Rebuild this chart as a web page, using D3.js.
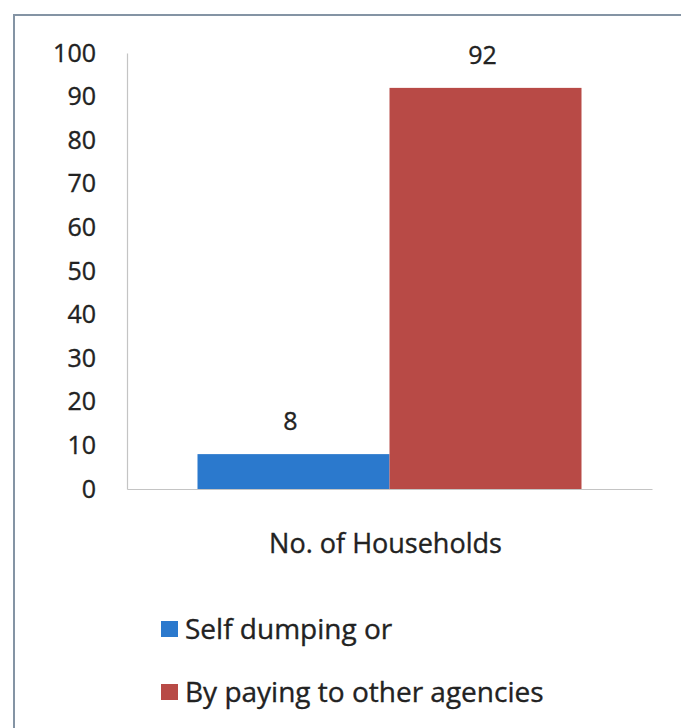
<!DOCTYPE html>
<html>
<head>
<meta charset="utf-8">
<script src="https://cdn.jsdelivr.net/npm/d3@7"></script>
<style>
  html, body { margin: 0; padding: 0; background: #fff; }
  svg { display: block; }
  text { font-family: "Open Sans", Lato, sans-serif; fill: #222; stroke: #222; stroke-width: 0.35px; }
</style>
</head>
<body>
<div id="chart"></div>
<script>
// Household waste disposal: share of households by method
const categories = ["No. of Households"];
const seriesNames = ["Self dumping or", "By paying to other agencies"];
const seriesValues = [8, 92];
const seriesColors = ["#2b79cd", "#b84a46"];
const yTicks = [0, 10, 20, 30, 40, 50, 60, 70, 80, 90, 100];

const W = 681, H = 728;
const margin = { left: 127, right: 29, top: 53, bottom: 239 };
const FONT = "'Open Sans', Lato, sans-serif";

const svg = d3.select("#chart").append("svg")
  .attr("width", W).attr("height", H);

// Outer frame (runs off the right and bottom edges)
svg.append("rect")
  .attr("x", 14).attr("y", 15)
  .attr("width", W + 20).attr("height", H + 20)
  .attr("fill", "none")
  .attr("stroke", "#8494a4")
  .attr("stroke-width", 2);

const plotW = W - margin.left - margin.right;
const plotH = H - margin.top - margin.bottom;
const g = svg.append("g").attr("transform", `translate(${margin.left},${margin.top})`);

const y = d3.scaleLinear().domain([0, 100]).range([plotH, 0]);
const x0 = d3.scaleBand().domain(categories).range([0, plotW]).paddingInner(0).paddingOuter(0.1836);
const x1 = d3.scaleBand().domain(seriesNames).range([0, x0.bandwidth()]).padding(0);

// Y axis
const yAxis = d3.axisLeft(y).tickValues(yTicks).tickSize(0).tickPadding(31);
const ya = g.append("g").call(yAxis);
ya.select(".domain").attr("stroke", "#c4c4c4").attr("stroke-width", 1.2);
ya.selectAll(".tick text")
  .attr("font-family", FONT)
  .attr("font-size", 25)
  .attr("fill", "#222");

// X axis baseline
const xAxis = d3.axisBottom(x0).tickSize(0).tickFormat("");
const xa = g.append("g").attr("transform", `translate(0,${plotH})`).call(xAxis);
xa.select(".domain").attr("stroke", "#c4c4c4").attr("stroke-width", 1.2);

// Bars
const groups = g.selectAll(".cat").data(categories).join("g")
  .attr("transform", d => `translate(${x0(d)},0)`);

const barData = seriesNames.map((s, i) => ({ name: s, value: seriesValues[i], color: seriesColors[i] }));

groups.selectAll("rect").data(barData).join("rect")
  .attr("x", d => x1(d.name))
  .attr("y", d => y(d.value))
  .attr("width", x1.bandwidth())
  .attr("height", d => plotH - y(d.value))
  .attr("fill", d => d.color);

// Value labels
groups.selectAll(".val").data(barData).join("text")
  .attr("class", "val")
  .attr("x", d => x1(d.name) + x1.bandwidth() / 2 - 3)
  .attr("y", d => y(d.value) - 24)
  .attr("text-anchor", "middle")
  .attr("font-size", 25)
  .text(d => d.value);

// Category label
groups.append("text")
  .attr("x", x0.bandwidth() / 2 - 4)
  .attr("y", plotH + 64)
  .attr("text-anchor", "middle")
  .attr("font-size", 27)
  .text(d => d);

// Legend
const legend = svg.append("g").attr("transform", "translate(161,629)");
const items = legend.selectAll("g").data(barData).join("g")
  .attr("transform", (d, i) => `translate(0,${i * 63})`);
items.append("rect")
  .attr("x", 0).attr("y", -8)
  .attr("width", 17).attr("height", 16)
  .attr("fill", d => d.color)
  .attr("stroke", "none");
items.append("text")
  .attr("x", 24).attr("y", 0)
  .attr("dy", "0.35em")
  .attr("font-size", 28)
  .text(d => d.name);
</script>
</body>
</html>
